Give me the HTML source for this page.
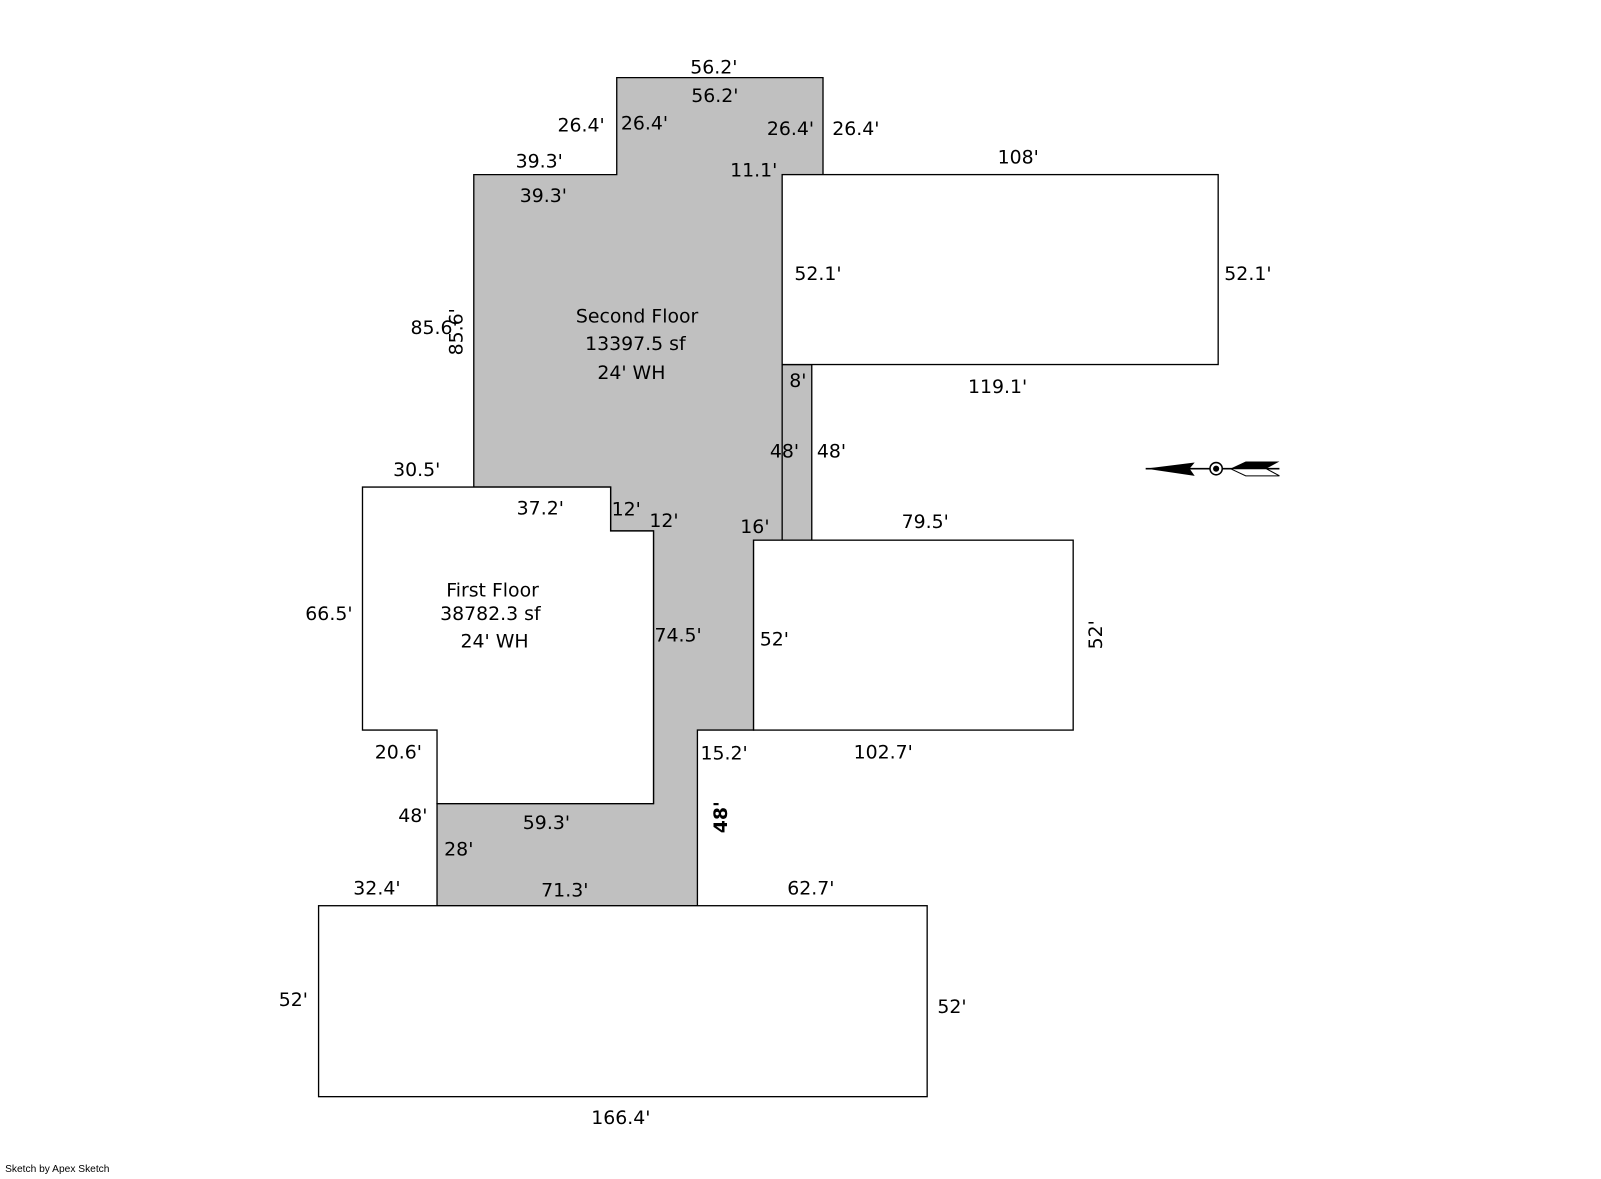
<!DOCTYPE html>
<html><head><style>body{margin:0;background:#fff}svg text{font-family:"DejaVu Sans","Liberation Sans",sans-serif;font-size:18.5px;fill:#000}</style></head><body>
<svg width="1601" height="1174" viewBox="0 0 1601 1174" xmlns="http://www.w3.org/2000/svg">
<g transform="scale(1.0211)">
<polygon points="604,76 806,76 806,171 766,171 766,357 795,357 795,529 738,529 738,715 683,715 683,887 428,887 428,787 640,787 640,520 598,520 598,477 464,477 464,171 604,171" fill="#c0c0c0" stroke="#000" stroke-width="1.3"/>
<line x1="766" y1="357" x2="766" y2="529" stroke="#000" stroke-width="1.3"/>
<rect x="766" y="171" width="427" height="186" fill="#fff" stroke="#000" stroke-width="1.3"/>
<rect x="738" y="529" width="313" height="186" fill="#fff" stroke="#000" stroke-width="1.3"/>
<rect x="312" y="887" width="596" height="187" fill="#fff" stroke="#000" stroke-width="1.3"/>
<polygon points="355,477 598,477 598,520 640,520 640,787 428,787 428,715 355,715" fill="#fff" stroke="#000" stroke-width="1.3"/>
<g>
<text x="676" y="72">56.2'</text><text x="677" y="100">56.2'</text>
<text x="546" y="129">26.4'</text><text x="608" y="127">26.4'</text>
<text x="751" y="132">26.4'</text><text x="815" y="132">26.4'</text>
<text x="505" y="164">39.3'</text><text x="509" y="198">39.3'</text>
<text x="715" y="173">11.1'</text><text x="977" y="160">108'</text>
<text x="778" y="274">52.1'</text><text x="1199" y="274">52.1'</text>
<text x="948" y="385">119.1'</text>
<text x="773" y="379">8'</text>
<text x="754" y="448">48'</text><text x="800" y="448">48'</text>
<text x="402" y="327">85.6'</text>
<text transform="translate(453,348) rotate(-90)">85.6'</text>
<text x="564" y="316">Second Floor</text>
<text x="573" y="343">13397.5 sf</text>
<text x="585" y="371">24' WH</text>
<text x="385" y="466">30.5'</text>
<text x="506" y="504">37.2'</text>
<text x="599" y="505">12'</text><text x="636" y="516">12'</text>
<text x="725" y="522">16'</text><text x="883" y="517">79.5'</text>
<text x="437" y="584">First Floor</text>
<text x="431" y="607">38782.3 sf</text>
<text x="451" y="634">24' WH</text>
<text x="299" y="607">66.5'</text>
<text x="641" y="628">74.5'</text>
<text x="744" y="632">52'</text>
<text transform="translate(1079,636) rotate(-90)">52'</text>
<text x="367" y="743">20.6'</text>
<text x="686" y="744">15.2'</text><text x="836" y="743">102.7'</text>
<text x="390" y="805">48'</text>
<text x="512" y="812">59.3'</text>
<text transform="translate(712,816) rotate(-90)" style="font-weight:bold">48'</text>
<text x="435" y="838">28'</text>
<text x="346" y="876">32.4'</text><text x="530" y="878">71.3'</text><text x="771" y="876">62.7'</text>
<text x="273" y="985">52'</text><text x="918" y="992">52'</text>
<text x="579" y="1101">166.4'</text>
<text x="5" y="1148" style="font-size:10px;font-family:'Liberation Sans',sans-serif">Sketch by Apex Sketch</text>
</g>
<g>
<line x1="1122" y1="459" x2="1253" y2="459" stroke="#000" stroke-width="1.5"/>
<polygon points="1122,459 1170,453 1165,459 1170,466" fill="#000"/>
<circle cx="1191" cy="459" r="6" fill="#fff" stroke="#000" stroke-width="1.5"/>
<circle cx="1191" cy="459" r="3" fill="#000"/>
<polygon points="1205,459 1220,452 1253,452 1240,459" fill="#000"/>
<polygon points="1205,459 1240,459 1253,466 1220,466" fill="#fff" stroke="#000" stroke-width="1"/>
</g>
</g>
</svg>
</body></html>
